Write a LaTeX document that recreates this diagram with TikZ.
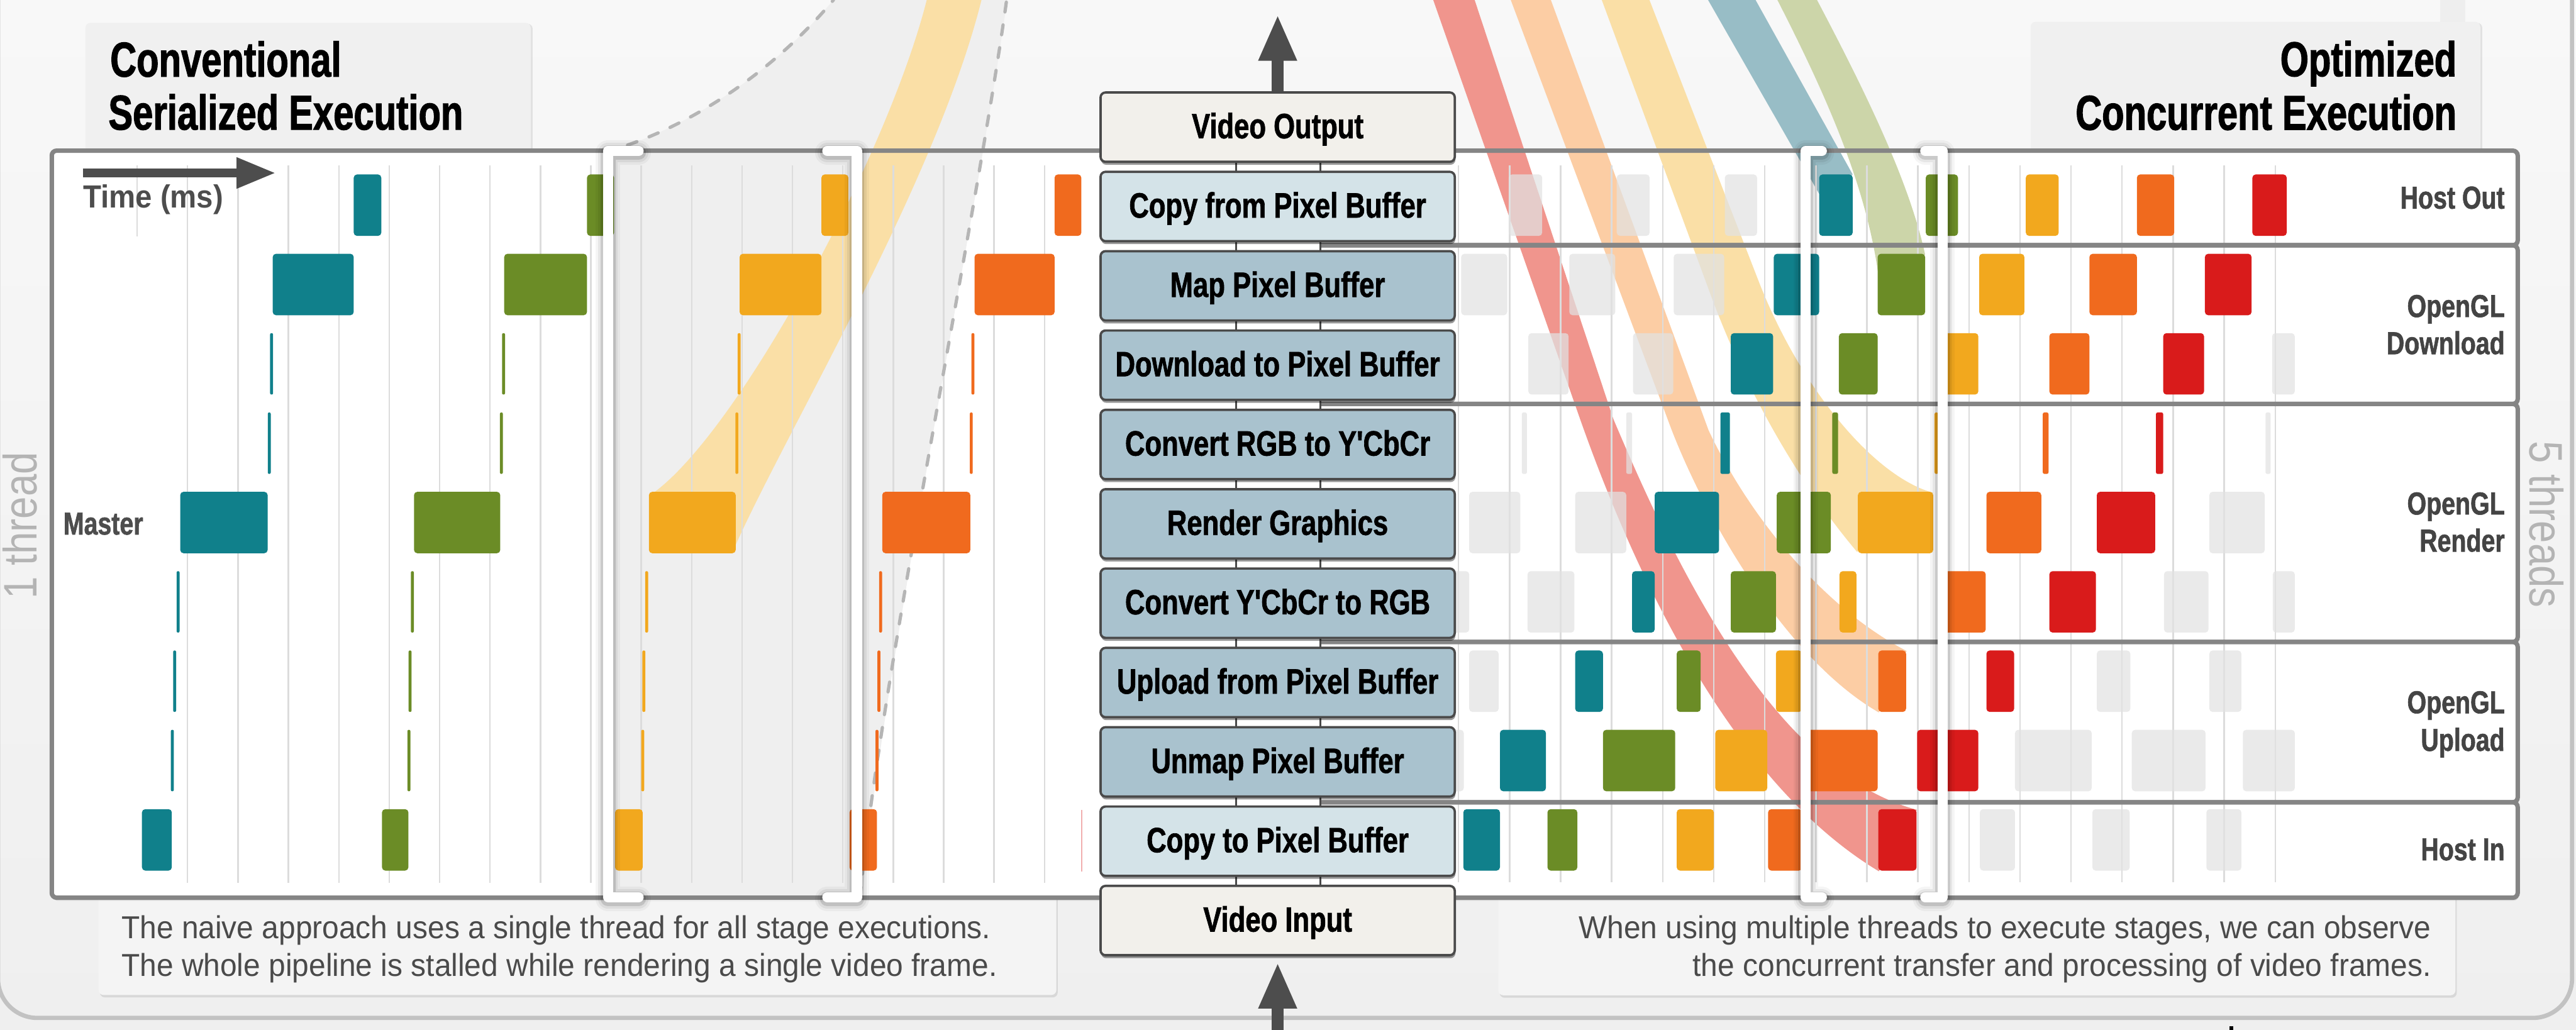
\documentclass[tikz,border=0pt]{standalone}
\usepackage{fontspec}
\setmainfont{Liberation Sans}
\newfontfamily\condfont[FakeStretch=0.78,Ligatures=TeXOff,BoldFeatures={FakeBold=1.2}]{Liberation Sans}
\newfontfamily\titlefont[FakeStretch=0.745,BoldFeatures={FakeBold=1.4}]{Liberation Sans}
\newfontfamily\timefont[FakeStretch=0.93]{Liberation Sans}
\newfontfamily\capfont[FakeStretch=0.95]{Liberation Sans}
\newfontfamily\threadfont[FakeStretch=0.85]{Liberation Sans}
\usetikzlibrary{arrows.meta,shadows}

\definecolor{bgtop}{HTML}{F8F8F8}
\definecolor{bgbot}{HTML}{EFEFEF}
\definecolor{framec}{HTML}{C2C2C2}
\definecolor{titlebox}{HTML}{F0F0F0}
\definecolor{capbox}{HTML}{F4F4F4}
\definecolor{gapc}{HTML}{EEEEEE}
\definecolor{panelline}{HTML}{858585}
\definecolor{gridc}{HTML}{DCDCDC}
\definecolor{conec}{HTML}{EFEFEF}
\definecolor{dashc}{HTML}{B5B5B5}
\definecolor{cteal}{HTML}{10808B}
\definecolor{cgreen}{HTML}{6B8C26}
\definecolor{cyellow}{HTML}{F2A81E}
\definecolor{corange}{HTML}{F06A1E}
\definecolor{cred}{HTML}{D91B1B}
\definecolor{ghostc}{HTML}{E2E2E2}
\definecolor{bandR}{HTML}{F0958D}
\definecolor{bandO}{HTML}{FCCDA4}
\definecolor{bandY}{HTML}{FADFA6}
\definecolor{bandB}{HTML}{98BDC6}
\definecolor{bandG}{HTML}{CCD5A9}
\definecolor{boxend}{HTML}{F2F0EB}
\definecolor{boxcopy}{HTML}{D4E3E8}
\definecolor{boxwork}{HTML}{A9C2CE}
\definecolor{boxline}{HTML}{4A4A4A}
\definecolor{arrowc}{HTML}{4D4D4D}
\definecolor{labelc}{HTML}{444444}
\definecolor{captc}{HTML}{4A4A4A}
\definecolor{threadc}{HTML}{B4B4B4}

% stage rows: row k spans y = 106.2+48.3k .. 143.6+48.3k
\newcommand\putblk[4]{\fill[#4,rounded corners=2pt] (#1,{106.2+48.3*#3}) rectangle (#2,{143.6+48.3*#3});}
\newcommand\putnar[4]{\fill[#4,rounded corners=1pt] (#1,{106.2+48.3*#3}) rectangle (#2,{143.6+48.3*#3});}
\newcommand\putthin[3]{\fill[#3,rounded corners=0.8pt] ({#1-0.9},{106.2+48.3*#2}) rectangle ({#1+0.9},{143.6+48.3*#2});}
\newcommand\putghost[3]{\fill[ghostc,fill opacity=0.72,rounded corners=2pt] (#1,{106.2+48.3*#3}) rectangle (#2,{143.6+48.3*#3});}
% selection bracket: #1 bar centre x, #2 cap end x
\newcommand\drawbracket[2]{%
  \draw[bracketshade,line width=15pt,opacity=0.04] (#2,91.9) -- (#1,91.9) -- (#1,546.2) -- (#2,546.2);
  \draw[bracketshade,line width=12pt,opacity=0.06] (#2,91.9) -- (#1,91.9) -- (#1,546.2) -- (#2,546.2);
  \draw[bracketshade,line width=9pt,opacity=0.12] (#2,91.9) -- (#1,91.9) -- (#1,546.2) -- (#2,546.2);
  \draw[bracketline] (#2,91.9) -- (#1,91.9) -- (#1,546.2) -- (#2,546.2);}

\begin{document}
\begin{tikzpicture}[x=1pt,y=-1pt,
  panel/.style={draw=panelline,line width=2.7pt,rounded corners=3pt},
  gridline/.style={draw=gridc,line width=0.9pt},
  dashline/.style={draw=dashc,line width=2pt,dash pattern=on 6pt off 8pt,line cap=round},
  stagebox/.style={draw=boxline,line width=1.4pt,rounded corners=3pt,minimum width=215.6pt,minimum height=42.2pt,inner sep=0pt,text height=16pt,text depth=2.5pt,font=\condfont\bfseries\fontsize{21.4}{24}\selectfont,drop shadow={shadow xshift=0.4pt,shadow yshift=-1.8pt,opacity=0.4,fill=black}},
  endbox/.style={stagebox,fill=boxend},
  copybox/.style={stagebox,fill=boxcopy},
  workbox/.style={stagebox,fill=boxwork},
  vidarrow/.style={draw=arrowc,line width=7pt,-{Triangle[length=28.2pt,width=21.5pt]}},
  rowlabel/.style={inner sep=0pt,anchor=base east,text=labelc,font=\condfont\bfseries\fontsize{19.3}{22}\selectfont},
  titletext/.style={inner sep=0pt,font=\titlefont\bfseries\fontsize{29.8}{32}\selectfont},
  captext/.style={inner sep=0pt,text=captc,font=\capfont\fontsize{19.3}{22}\selectfont},
  threadtext/.style={inner sep=0pt,anchor=base,text=threadc,font=\threadfont\fontsize{28.6}{30}\selectfont},
  bracketline/.style={draw=white,line width=6.2pt,line cap=round,line join=round},
  bracketshade/.style={draw=black,line cap=round,line join=round,yshift=-1pt}
]
\useasboundingbox (0,0) rectangle (1568,627);
\begin{scope}
\clip (0,0) rectangle (1568,627);

% background and outer frame
\shade[top color=bgtop,bottom color=bgbot] (0,0) rectangle (1568,627);
\draw[draw=framec,line width=2.6pt,rounded corners=24pt] (-1.2,-40) rectangle (1565.6,619.7);
\fill[gapc] (1485.3,0) rectangle (1500.6,13.7);
\fill[black] (1357.2,624.8) rectangle (1359.4,627);

% title and caption cards
\fill[titlebox,rounded corners=3pt,drop shadow={shadow xshift=1.2pt,shadow yshift=-0.6pt,opacity=0.18}] (52,13.9) rectangle (323,100);
\fill[titlebox,rounded corners=3pt,drop shadow={shadow xshift=1.2pt,shadow yshift=-0.6pt,opacity=0.18}] (1236,13.3) rectangle (1509.7,100);
\fill[capbox,rounded corners=3pt,drop shadow={shadow xshift=0.8pt,shadow yshift=-1.5pt,opacity=0.2}] (60,530) rectangle (643,605.7);
\fill[capbox,rounded corners=3pt,drop shadow={shadow xshift=0.8pt,shadow yshift=-1.5pt,opacity=0.2}] (912,530) rectangle (1494.6,605.9);

% timeline panels (fills)
\fill[white,rounded corners=3pt,drop shadow={shadow xshift=0.6pt,shadow yshift=-1.8pt,opacity=0.2}] (31.5,91.7) rectangle (760,546.5);
\fill[white,rounded corners=3pt,drop shadow={shadow xshift=0.6pt,shadow yshift=-1.8pt,opacity=0.2}] (800,91.7) rectangle (1532.5,546.5);

% magnifier cone of the serialized selection
\fill[conec] (370,93) -- (382,88.3) .. controls (432,70.8) and (477.3,36) .. (507.3,0) -- (613,0) .. controls (595,130) and (535,420) .. (524.7,549) -- (370,549) -- cycle;

% frame ribbons
\fill[bandY] (397.8,300) .. controls (450,262) and (540,95) .. (564.1,0) -- (597.4,0) .. controls (570,110) and (480,260) .. (447.8,331.7) -- cycle;
\fill[bandR] (872.4,0) -- (960,250) .. controls (1000,365) and (1060,480) .. (1143.6,530.4) -- (1166.8,493) .. controls (1080,470) and (1020,345) .. (982,255) -- (897.6,0) -- cycle;
\fill[bandO] (919.6,0) -- (1015,255) .. controls (1035,310) and (1085,400) .. (1143.6,433.7) -- (1160.5,396.3) .. controls (1110,370) and (1065,315) .. (1040,262) -- (944,0) -- cycle;
\fill[bandY] (975,0) -- (1040,176) .. controls (1065,245) and (1100,300) .. (1130.4,336) -- (1176.7,300) .. controls (1140,290) and (1095,235) .. (1070,170) -- (1004,0) -- cycle;
\fill[bandB] (1039.7,0) -- (1107.3,118) -- (1127.7,106.2) -- (1068.6,0) -- cycle;
\fill[bandG] (1081.9,0) .. controls (1110,55) and (1135,110) .. (1143,165) -- (1171.8,155) .. controls (1162,110) and (1135,55) .. (1106,0) -- cycle;

% time grid
\foreach \k in {0,...,17} \draw[gridline] ({114.2+30.68*\k},100.5) -- ({114.2+30.68*\k},537.5);
\draw[gridline] (83.5,100.5) -- (83.5,144);
\foreach \k in {0,...,16} \draw[gridline] ({887.8+31.07*\k},100.5) -- ({887.8+31.07*\k},537);

% cone outline
\draw[dashline] (382,88.3) .. controls (432,70.8) and (477.3,36) .. (507.3,0);
\draw[dashline] (523.5,546) .. controls (535,420) and (595,130) .. (613,-2);

% panel borders and thread groups
\draw[panel] (31.5,91.7) rectangle (760,546.5);
\draw[panel] (800,91.7) rectangle (1532.5,149.3);
\draw[panel] (800,149.3) rectangle (1532.5,245.9);
\draw[panel] (800,245.9) rectangle (1532.5,390.8);
\draw[panel] (800,390.8) rectangle (1532.5,488.4);
\draw[panel] (800,488.4) rectangle (1532.5,546.5);

% pipe joining the stages
\coordinate (pipetop) at (777.7,98);
\coordinate (pipebot) at (777.7,540);
\fill[white] ([xshift=-25.4pt]pipetop) rectangle ([xshift=26pt]pipebot);
\draw[draw=boxline,line width=1.3pt] ([xshift=-25.4pt]pipetop) -- ([xshift=-25.4pt]pipebot) ([xshift=26pt]pipetop) -- ([xshift=26pt]pipebot);

% serialized execution: one thread
\putblk{215.3}{232.1}{0}{cteal}
\putblk{166}{215.3}{1}{cteal}
\putthin{165.3}{2}{cteal}
\putthin{163.9}{3}{cteal}
\putblk{109.7}{162.9}{4}{cteal}
\putthin{108.4}{5}{cteal}
\putthin{106.3}{6}{cteal}
\putthin{104.9}{7}{cteal}
\putblk{86.4}{104.6}{8}{cteal}
\putblk{357.3}{373.8}{0}{cgreen}
\putblk{306.9}{357.3}{1}{cgreen}
\putthin{306.5}{2}{cgreen}
\putthin{305.2}{3}{cgreen}
\putblk{252}{304.5}{4}{cgreen}
\putthin{251}{5}{cgreen}
\putthin{249.6}{6}{cgreen}
\putthin{248.9}{7}{cgreen}
\putblk{232.5}{248.6}{8}{cgreen}
\putblk{500}{516.4}{0}{cyellow}
\putblk{450.2}{500}{1}{cyellow}
\putthin{449.9}{2}{cyellow}
\putthin{448.5}{3}{cyellow}
\putblk{395}{447.8}{4}{cyellow}
\putthin{393.6}{5}{cyellow}
\putthin{391.9}{6}{cyellow}
\putthin{391.2}{7}{cyellow}
\putblk{374.4}{391.2}{8}{cyellow}
\putblk{641.9}{658.2}{0}{corange}
\putblk{593.2}{641.9}{1}{corange}
\putthin{592.2}{2}{corange}
\putthin{591.2}{3}{corange}
\putblk{537}{590.6}{4}{corange}
\putthin{536}{5}{corange}
\putthin{535}{6}{corange}
\putthin{533.8}{7}{corange}
\putblk{517.1}{533.8}{8}{corange}
\fill[cred,opacity=0.35] (658.1,493.2) rectangle (658.9,530.6);

% concurrent execution: idle slots
\putghost{918.3}{938.7}{0}\putghost{984.1}{1004.1}{0}\putghost{1049.9}{1069.5}{0}
\putghost{889.4}{917.4}{1}\putghost{955.2}{983.2}{1}\putghost{1018.8}{1049.5}{1}
\putghost{930.3}{954.8}{2}\putghost{994}{1018.5}{2}\putghost{1383}{1396.8}{2}
\fill[ghostc,fill opacity=0.72,rounded corners=1pt] (926.3,251.1) rectangle (929.4,288.5);
\fill[ghostc,fill opacity=0.72,rounded corners=1pt] (989.9,251.1) rectangle (993.4,288.5);
\fill[ghostc,fill opacity=0.72,rounded corners=1pt] (1379,251.1) rectangle (1382.1,288.5);
\putghost{894.3}{925.4}{4}\putghost{958.8}{989.9}{4}\putghost{1344.8}{1378.5}{4}
\putghost{878}{894.3}{5}\putghost{929.8}{958.3}{5}\putghost{1317.2}{1344.3}{5}\putghost{1383.4}{1396.8}{5}
\putghost{894.3}{912.2}{6}\putghost{1276.3}{1296.7}{6}\putghost{1344.8}{1364.3}{6}
\putghost{878}{891}{7}\putghost{1226.5}{1273.2}{7}\putghost{1297.6}{1342.5}{7}\putghost{1365.2}{1396.8}{7}
\putghost{1205.1}{1226.5}{8}\putghost{1273.6}{1296.3}{8}\putghost{1343}{1364.3}{8}

% concurrent execution: frames
\putblk{1107.3}{1127.7}{0}{cteal}\putblk{1172.2}{1191.8}{0}{cgreen}\putblk{1233.1}{1253.1}{0}{cyellow}\putblk{1300.7}{1323.4}{0}{corange}\putblk{1371}{1391.9}{0}{cred}
\putblk{1079.7}{1107.3}{1}{cteal}\putblk{1142.9}{1171.8}{1}{cgreen}\putblk{1204.7}{1232.2}{1}{cyellow}\putblk{1271.8}{1300.7}{1}{corange}\putblk{1342.1}{1370.5}{1}{cred}
\putblk{1053.5}{1079.3}{2}{cteal}\putblk{1119.3}{1142.9}{2}{cgreen}\putblk{1182}{1204.2}{2}{cyellow}\putblk{1247.4}{1271.8}{2}{corange}\putblk{1316.7}{1341.6}{2}{cred}
\putnar{1047.2}{1053}{3}{cteal}\putnar{1115.3}{1118.8}{3}{cgreen}\putnar{1177.5}{1179.8}{3}{cyellow}\putnar{1243.4}{1246.9}{3}{corange}\putnar{1312.3}{1316.7}{3}{cred}
\putblk{1007.2}{1046.4}{4}{cteal}\putblk{1081.5}{1114.4}{4}{cgreen}\putblk{1130.9}{1176.7}{4}{cyellow}\putblk{1209.1}{1242.5}{4}{corange}\putblk{1276.3}{1311.8}{4}{cred}
\putblk{993.4}{1007.2}{5}{cteal}\putblk{1053.5}{1081}{5}{cgreen}\putblk{1119.7}{1130}{5}{cyellow}\putblk{1181}{1208.7}{5}{corange}\putblk{1247.4}{1275.8}{5}{cred}
\putblk{958.8}{975.7}{6}{cteal}\putblk{1020.6}{1035.2}{6}{cgreen}\putblk{1081}{1097}{6}{cyellow}\putblk{1143.3}{1160.2}{6}{corange}\putblk{1209.1}{1226}{6}{cred}
\putblk{913}{941}{7}{cteal}\putblk{975.7}{1019.7}{7}{cgreen}\putblk{1044.1}{1075.7}{7}{cyellow}\putblk{1098}{1142.9}{7}{corange}\putblk{1166.9}{1204.2}{7}{cred}
\putblk{890.7}{913}{8}{cteal}\putblk{941.9}{960.1}{8}{cgreen}\putblk{1020.6}{1043.2}{8}{cyellow}\putblk{1076.2}{1097}{8}{corange}\putblk{1143.3}{1166.6}{8}{cred}

% selection brackets
\drawbracket{370.1}{388.7}
\drawbracket{521.6}{503.6}
\drawbracket{1099.1}{1108.9}
\drawbracket{1182.4}{1171.9}

% pipeline stages
\node[endbox] (vout) at (777.7,77.4) {Video Output};
\node[copybox] (s0) at (777.7,125.7) {Copy from Pixel Buffer};
\node[workbox] (s1) at (777.7,174) {Map Pixel Buffer};
\node[workbox] (s2) at (777.7,222.3) {Download to Pixel Buffer};
\node[workbox] (s3) at (777.7,270.6) {Convert RGB to Y'CbCr};
\node[workbox] (s4) at (777.7,318.9) {Render Graphics};
\node[workbox] (s5) at (777.7,367.2) {Convert Y'CbCr to RGB};
\node[workbox] (s6) at (777.7,415.5) {Upload from Pixel Buffer};
\node[workbox] (s7) at (777.7,463.8) {Unmap Pixel Buffer};
\node[copybox] (s8) at (777.7,512.1) {Copy to Pixel Buffer};
\node[endbox] (vin) at (777.7,560.4) {Video Input};

\coordinate (outtip) at (777.7,8.8);
\coordinate (intail) at (777.7,640);
\draw[vidarrow] (vout.north) -- (outtip);
\draw[vidarrow] (intail) -- ([yshift=-3.6pt]vin.south);

% time axis
\coordinate (timetail) at (50.4,105.3);
\coordinate (timetip) at (168,105.3);
\draw[draw=arrowc,line width=5.4pt,-{Triangle[length=24pt,width=17.5pt]}] (timetail) -- (timetip);
\node[inner sep=0pt,anchor=base west,text=arrowc,font=\timefont\bfseries\fontsize{19.5}{22}\selectfont] (ltime) at (50.4,126.6) {Time (ms)};

% thread labels
\node[rowlabel,anchor=base west,text=arrowc] (lmaster) at (38.4,325.4) {Master};
\node[rowlabel] (lhostout) at (1524.8,127) {Host Out};
\node[rowlabel] (ldl1) at (1524.8,193) {OpenGL};
\node[rowlabel] (ldl2) at (1524.8,215.6) {Download};
\node[rowlabel] (lrd1) at (1524.8,313.2) {OpenGL};
\node[rowlabel] (lrd2) at (1524.8,335.8) {Render};
\node[rowlabel] (lup1) at (1524.8,434.2) {OpenGL};
\node[rowlabel] (lup2) at (1524.8,457.1) {Upload};
\node[rowlabel] (lhostin) at (1524.8,523.7) {Host In};

% titles
\node[titletext,anchor=base west] (t1a) at (66.9,46.6) {Conventional};
\node[titletext,anchor=base west] (t1b) at (65.8,78.9) {Serialized Execution};
\node[titletext,anchor=base east] (t2a) at (1495.5,46.4) {Optimized};
\node[titletext,anchor=base east] (t2b) at (1495.5,79) {Concurrent Execution};

% captions
\node[captext,anchor=base west] (c1a) at (73.8,571.2) {The naive approach uses a single thread for all stage executions.};
\node[captext,anchor=base west] (c1b) at (73.8,594.3) {The whole pipeline is stalled while rendering a single video frame.};
\node[captext,anchor=base east] (c2a) at (1480,571.3) {When using multiple threads to execute stages, we can observe};
\node[captext,anchor=base east] (c2b) at (1480,594.3) {the concurrent transfer and processing of video frames.};

% thread counts
\node[threadtext,rotate=90] (th1) at (22.3,319.9) {1 thread};
\node[threadtext,rotate=-90] (th5) at (1540,319.3) {5 threads};
\end{scope}
\end{tikzpicture}
\end{document}
